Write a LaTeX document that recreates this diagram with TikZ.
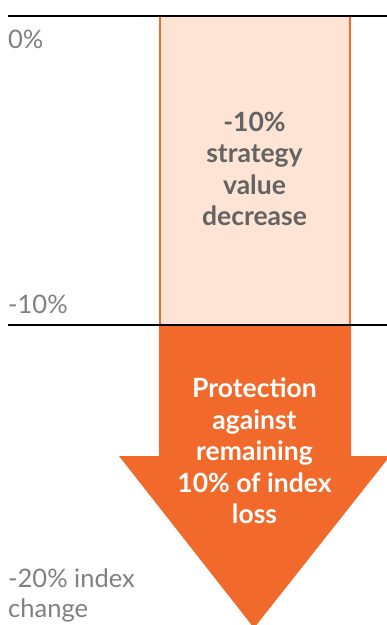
\documentclass[tikz,border=0pt]{standalone}
\usepackage{fontspec}
\setmainfont{Lato}
\usepackage{tikz}
\usetikzlibrary{positioning}
\definecolor{protorange}{RGB}{242,106,43}
\definecolor{lossfill}{RGB}{253,228,212}
\definecolor{labelgray}{RGB}{128,128,128}
\definecolor{textgray}{RGB}{99,99,99}
\tikzset{
    level/.style={
           anchor=base west,
           inner sep=0pt,
           text=labelgray,
           align=left,
           font=\fontsize{25.5}{30}\selectfont,
           },
    lossbox/.style={
           rectangle,
           draw=protorange,
           fill=lossfill,
           line width=2pt,
           minimum width=190pt,
           minimum height=309pt,
           },
    boxtext/.style={
           align=center,
           inner sep=0pt,
           font=\fontsize{26.5}{31.5}\selectfont\bfseries,
           },
}

\begin{document}
\begin{tikzpicture}[x=1pt,y=-1pt]

 \useasboundingbox (0,0) rectangle (387,625);

 \node[lossbox] (LOSS) at (254.5,170.5) {};

 % protection arrow
 \fill[protorange] (159,325) -- (351,325) -- (351,456) -- (390,456)
   -- (254,628) -- (119,456) -- (159,456) -- cycle;

 \coordinate (ZEROL) at (8,16);
 \coordinate (ZEROR) at (387,16);
 \coordinate (TENL) at (8,325);
 \coordinate (TENR) at (387,325);
 \draw[line width=2pt] (ZEROL) -- (ZEROR);
 \draw[line width=2pt] (TENL) -- (TENR);

 \node[boxtext, text=textgray] (DECREASE) at (LOSS.center |- 0,169)
 {-10\%\\strategy\\value\\decrease};

 \node[boxtext, text=white] (PROTECT) at (254.5,451)
 {Protection\\against\\remaining\\10\% of index\\loss};

 \node[level] (ZERO) at (8,48) {0\%};
 \node[level] (TEN) at (8,313) {-10\%};
 \node[level] (TWENTY) at (8,617) {-20\% index\\change};

\end{tikzpicture}
\end{document}
